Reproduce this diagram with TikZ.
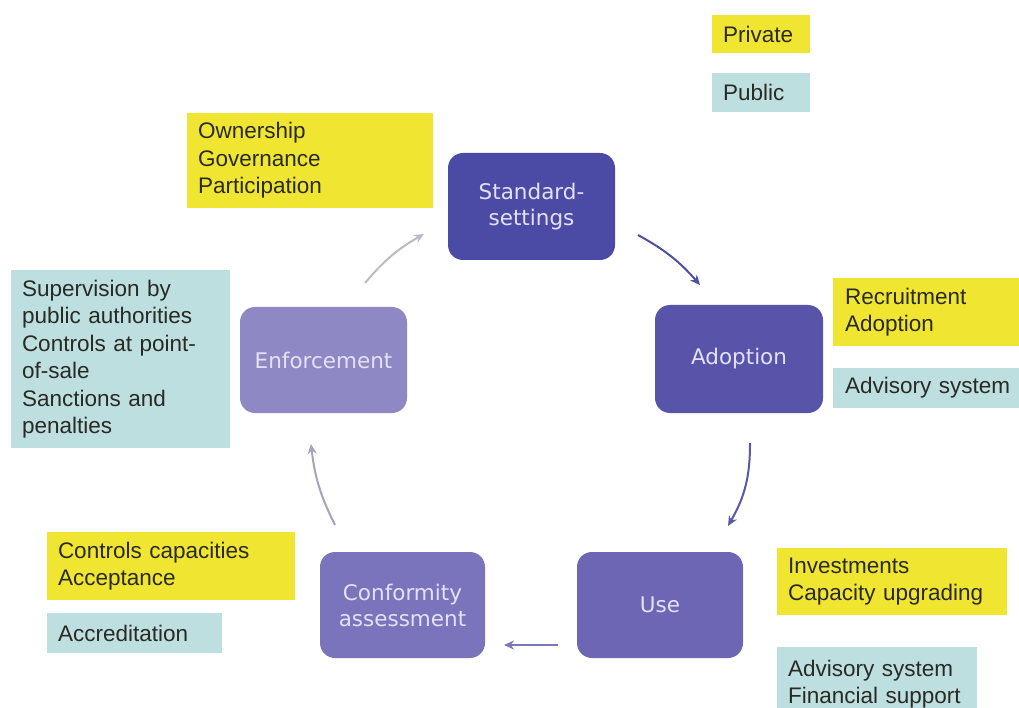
\documentclass[tikz,border=0pt]{standalone}
\usepackage{fontspec}
\setmainfont{Liberation Sans}
\newfontfamily\procfont{DejaVu Sans}
\usetikzlibrary{arrows.meta}
\definecolor{cStd}{HTML}{4B4BA6}
\definecolor{cAdo}{HTML}{5754AA}
\definecolor{cUse}{HTML}{6C66B4}
\definecolor{cCon}{HTML}{7A74BD}
\definecolor{cEnf}{HTML}{8E88C5}
\definecolor{cYel}{HTML}{F0E632}
\definecolor{cTeal}{HTML}{BEDFE0}
\definecolor{cProcText}{HTML}{E4E1F5}
\definecolor{cSideText}{HTML}{2A2A24}
\definecolor{cA1}{HTML}{4F4FA0}
\definecolor{cA2}{HTML}{5B58AA}
\definecolor{cA3}{HTML}{7878B4}
\definecolor{cA4}{HTML}{A4A4BC}
\definecolor{cA5}{HTML}{BBBBC8}
\tikzset{
  proc/.style={rectangle, rounded corners=15pt, inner sep=0pt, align=center,
    text=cProcText, font=\procfont\fontsize{21.5}{26}\selectfont},
  side/.style={rectangle, inner xsep=11pt, inner ysep=0pt, align=left,
    text=cSideText, font=\fontsize{22.5}{27.5}\selectfont},
  priv/.style={side, fill=cYel},
  publ/.style={side, fill=cTeal},
  flow/.style={line width=2pt, -{Stealth[length=10pt,width=9pt]}}
}
\begin{document}
\begin{tikzpicture}[x=1pt,y=-1pt]
\useasboundingbox (0,0) rectangle (1019,708);
\fill[white] (0,0) rectangle (1019,708);
% process boxes
\node[proc, fill=cStd, minimum width=167pt, minimum height=107pt] (std) at (531.5,206.5) {Standard-\\settings};
\node[proc, fill=cAdo, minimum width=168pt, minimum height=108pt] (ado) at (739,359) {Adoption};
\node[proc, fill=cUse, minimum width=166pt, minimum height=106pt] (use) at (660,605) {Use};
\node[proc, fill=cCon, minimum width=165pt, minimum height=106pt] (con) at (402.5,605) {Conformity\\assessment};
\node[proc, fill=cEnf, minimum width=167pt, minimum height=106pt] (enf) at (323.5,360) {Enforcement};
% legend
\node[priv, minimum width=98pt, minimum height=38pt, text width=76pt] (lpriv) at (761,34) {Private};
\node[publ, minimum width=98pt, minimum height=39pt, text width=76pt] (lpubl) at (761,92.5) {Public};
% side boxes
\node[priv, minimum width=246pt, minimum height=95pt, text width=224pt] (own) at (310,160.5) {Ownership\\Governance\\Participation};
\node[publ, minimum width=219pt, minimum height=178pt, text width=197pt] (sup) at (120.5,359) {Supervision by\\public authorities\\Controls at point-\\of-sale\\Sanctions and\\penalties};
\node[priv, minimum width=192pt, minimum height=68pt, text width=168pt, inner xsep=12pt] (rec) at (929,312) {Recruitment\\Adoption};
\node[publ, minimum width=192pt, minimum height=40pt, text width=168pt, inner xsep=12pt] (adv1) at (929,388) {Advisory system};
\node[priv, minimum width=248pt, minimum height=68pt, text width=226pt] (ctl) at (171,566) {Controls capacities\\Acceptance};
\node[publ, minimum width=175pt, minimum height=40pt, text width=153pt] (acc) at (134.5,633) {Accreditation};
\node[priv, minimum width=230pt, minimum height=67pt, text width=208pt] (inv) at (892,581.5) {Investments\\Capacity upgrading};
\node[publ, minimum width=200pt, minimum height=74pt, text width=178pt] (adv2) at (877,684) {Advisory system\\Financial support};
% arrows
\coordinate (a1s) at (638,235);
\coordinate (a1e) at (700,285);
\coordinate (a2s) at (750,443);
\coordinate (a2e) at (728,526);
\coordinate (a3s) at (558,645);
\coordinate (a3e) at (504,645);
\coordinate (a4s) at (335,525);
\coordinate (a4e) at (311,444);
\coordinate (a5s) at (365,283);
\coordinate (a5e) at (424,234);
\draw[flow, cA1] (a1s) to[bend left=10] (a1e);
\draw[flow, cA2] (a2s) to[bend left=15] (a2e);
\draw[flow, cA3] (a3s) -- (a3e);
\draw[flow, cA4] (a4s) to[bend left=10] (a4e);
\draw[flow, cA5] (a5s) to[bend left=10] (a5e);
\end{tikzpicture}
\end{document}
